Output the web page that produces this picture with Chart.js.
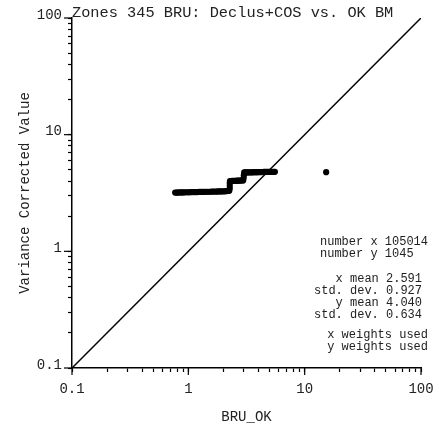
<!DOCTYPE html>
<html>
<head>
<meta charset="utf-8">
<script src="https://cdn.jsdelivr.net/npm/chart.js@4.4.0/dist/chart.umd.min.js"></script>
<style>
	html, body { margin: 0; padding: 0; background: #fff; }
</style>
</head>
<body>
<canvas id="qqChart" width="436" height="430"></canvas>
<script>
// Q-Q pairs (BRU_OK quantile vs. variance corrected quantile)
let qqX = [
	0.77, 0.79, 0.81, 0.83, 0.86, 0.88, 0.91, 0.94, 0.97, 1.00, 1.03, 1.06,
	1.09, 1.13, 1.16, 1.20, 1.24, 1.28, 1.32, 1.36, 1.40, 1.45, 1.49, 1.54,
	1.59, 1.64, 1.69, 1.75, 1.80, 1.86, 1.92, 1.98, 2.05, 2.11, 2.18, 2.25,
	2.27, 2.27, 2.27,
	2.28, 2.33, 2.38, 2.44, 2.50, 2.56, 2.62, 2.68, 2.75, 2.82, 2.89, 2.96,
	2.99, 3.00,
	3.02, 3.09, 3.16, 3.24, 3.32, 3.40, 3.48, 3.57, 3.66, 3.75, 3.84, 3.93,
	4.03, 4.13, 4.23, 4.34, 4.45, 4.56, 4.67, 4.79, 4.91, 5.03, 5.16, 5.29,
	5.42, 5.55,
	15.3
];
let qqY = [
	3.19, 3.19, 3.19, 3.20, 3.20, 3.20, 3.20, 3.21, 3.21, 3.21, 3.21, 3.22,
	3.22, 3.22, 3.22, 3.22, 3.23, 3.23, 3.23, 3.23, 3.24, 3.24, 3.24, 3.24,
	3.25, 3.25, 3.25, 3.25, 3.26, 3.26, 3.26, 3.27, 3.27, 3.28, 3.29, 3.30,
	3.45, 3.65, 3.85,
	4.00, 4.00, 4.01, 4.01, 4.02, 4.02, 4.03, 4.03, 4.04, 4.04, 4.05, 4.05,
	4.25, 4.50,
	4.75, 4.75, 4.75, 4.75, 4.76, 4.76, 4.76, 4.76, 4.77, 4.77, 4.77, 4.77,
	4.78, 4.78, 4.78, 4.78, 4.79, 4.79, 4.79, 4.79, 4.80, 4.80, 4.80, 4.80,
	4.80, 4.80,
	4.77
];

// 45 degree reference line
let diagX = [0.1, 100];
let diagY = [0.1, 100];

// log axis ticks (same for both axes)
let tickValues = [
	0.1, 0.2, 0.3, 0.4, 0.5, 0.6, 0.7, 0.8, 0.9,
	1, 2, 3, 4, 5, 6, 7, 8, 9,
	10, 20, 30, 40, 50, 60, 70, 80, 90,
	100
];
let majorTicks = [0.1, 1, 10, 100];
let tickLabels = ['0.1', '1', '10', '100'];

// statistics text
let statsCounts = ['number x 105014', 'number y 1045'];
let statsMoments = ['x mean 2.591', 'std. dev. 0.927', 'y mean 4.040', 'std. dev. 0.634'];
let statsWeights = ['x weights used', 'y weights used'];

let titleText = 'Zones 345 BRU: Declus+COS vs. OK BM';
let xTitle = 'BRU_OK';
let yTitle = 'Variance Corrected Value';

const FONT = '"Liberation Mono", "DejaVu Sans Mono", monospace';
const INK = '#222';

function tickLabel(value) {
	let i = majorTicks.indexOf(value);
	return i >= 0 ? tickLabels[i] : '';
}

function setTicks(scale) {
	scale.ticks = tickValues.map(v => ({ value: v, major: majorTicks.includes(v) }));
}

// longer major tick marks + statistics block
const extras = {
	id: 'extras',
	afterDraw(chart) {
		let ctx = chart.ctx;
		let xs = chart.scales.x;
		let ys = chart.scales.y;
		ctx.save();
		ctx.strokeStyle = '#000';
		ctx.lineWidth = 1.2;
		majorTicks.forEach(function(v) {
			let px = xs.getPixelForValue(v);
			ctx.beginPath();
			ctx.moveTo(px, xs.top);
			ctx.lineTo(px, xs.top + 7);
			ctx.stroke();
			let py = ys.getPixelForValue(v);
			ctx.beginPath();
			ctx.moveTo(ys.right, py);
			ctx.lineTo(ys.right - 8, py);
			ctx.stroke();
		});

		ctx.fillStyle = INK;
		ctx.font = '12px ' + FONT;
		ctx.textBaseline = 'alphabetic';
		ctx.textAlign = 'left';
		statsCounts.forEach(function(t, i) {
			ctx.fillText(t, 320, 245 + i * 12);
		});
		ctx.textAlign = 'right';
		statsMoments.forEach(function(t, i) {
			ctx.fillText(t, 422, 282 + i * 12);
		});
		statsWeights.forEach(function(t, i) {
			ctx.fillText(t, 428, 338 + i * 12);
		});
		ctx.restore();
	}
};

let axisGrid = {
	display: true,
	drawOnChartArea: false,
	drawTicks: true,
	tickLength: 4,
	tickWidth: 1.2,
	color: '#000'
};

new Chart(document.getElementById('qqChart'), {
	type: 'scatter',
	data: {
		datasets: [{
			label: 'diagonal',
			data: diagX.map((x, i) => ({ x: x, y: diagY[i] })),
			showLine: true,
			borderColor: '#000',
			borderWidth: 1.5,
			pointRadius: 0,
			order: 2
		}, {
			label: 'qq',
			data: qqX.map((x, i) => ({ x: x, y: qqY[i] })),
			backgroundColor: '#000',
			borderWidth: 0,
			pointRadius: 3.1,
			order: 1
		}]
	},
	options: {
		responsive: false,
		animation: false,
		events: [],
		layout: { padding: { left: 0, right: 15, top: 0, bottom: 0 } },
		plugins: {
			legend: { display: false },
			tooltip: { enabled: false },
			title: {
				display: true,
				text: titleText,
				fullSize: false,
				align: 'start',
				color: INK,
				font: { family: FONT, size: 15.3, weight: 'normal', lineHeight: '11px' },
				padding: { top: 7, bottom: 0 }
			}
		},
		scales: {
			x: {
				type: 'logarithmic',
				position: 'bottom',
				min: 0.1,
				max: 100,
				afterBuildTicks: setTicks,
				afterFit: function(scale) {
					scale.height = 62;
					scale.paddingLeft = 0;
					scale.paddingRight = 0;
				},
				grid: axisGrid,
				border: { display: true, color: '#000', width: 1.5 },
				ticks: {
					autoSkip: false,
					maxRotation: 0,
					padding: 9,
					color: INK,
					font: { family: FONT, size: 14 },
					callback: tickLabel
				},
				title: {
					display: true,
					text: xTitle,
					color: INK,
					font: { family: FONT, size: 14, lineHeight: 1 },
					padding: { top: 0, bottom: 6 }
				}
			},
			y: {
				type: 'logarithmic',
				position: 'left',
				min: 0.1,
				max: 100,
				afterBuildTicks: setTicks,
				afterFit: function(scale) {
					scale.width = 72;
					scale.paddingTop = 0;
					scale.paddingBottom = 0;
				},
				grid: axisGrid,
				border: { display: true, color: '#000', width: 1.5 },
				ticks: {
					autoSkip: false,
					padding: 6,
					labelOffset: -3,
					color: INK,
					font: { family: FONT, size: 14 },
					callback: tickLabel
				},
				title: {
					display: true,
					text: yTitle,
					color: INK,
					font: { family: FONT, size: 14, lineHeight: 1 },
					padding: { top: 18, bottom: 0 }
				}
			}
		}
	},
	plugins: [extras]
});
</script>
</body>
</html>
